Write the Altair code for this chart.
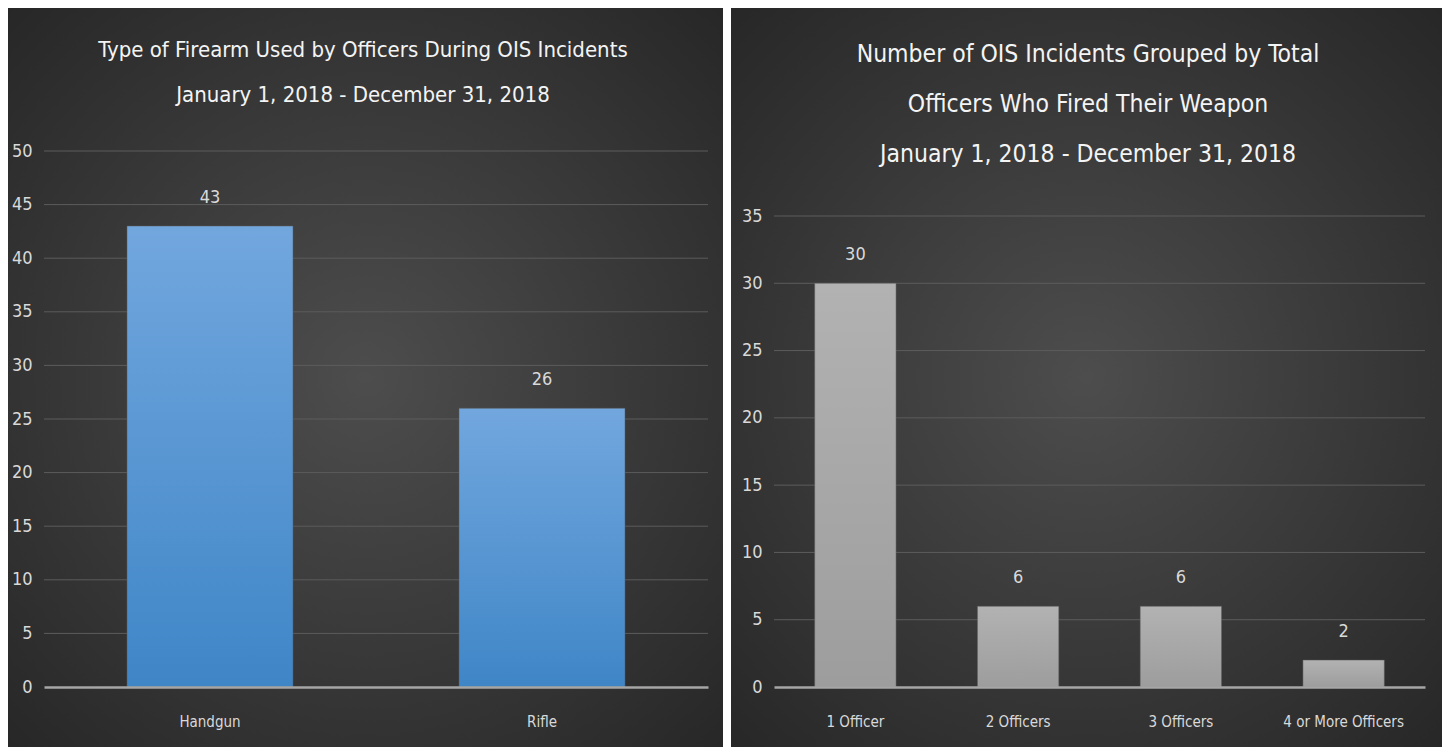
import altair as alt
import pandas as pd

# ---- data ----
firearm_types = ["Handgun", "Rifle"]
firearm_counts = [43, 26]
left_ticks = [0, 5, 10, 15, 20, 25, 30, 35, 40, 45, 50]

officer_groups = ["1 Officer", "2 Officers", "3 Officers", "4 or More Officers"]
officer_counts = [30, 6, 6, 2]
right_ticks = [0, 5, 10, 15, 20, 25, 30, 35]

left_title = "Type of Firearm Used by Officers During OIS Incidents\nJanuary 1, 2018 - December 31, 2018"
right_title = ("Number of OIS Incidents Grouped by Total\nOfficers Who Fired Their Weapon\n"
               "January 1, 2018 - December 31, 2018")

FONT = "DejaVu Sans Condensed, Liberation Sans Narrow, sans-serif"

bg_fill = alt.RadialGradient(
    gradient="radial", x1=0.5, y1=0.5, x2=0.5, y2=0.5, r1=0, r2=0.75,
    stops=[alt.GradientStop(color="#4d4d4d", offset=0),
           alt.GradientStop(color="#242424", offset=1)])

blue_fill = alt.LinearGradient(
    gradient="linear", x1=0, x2=0, y1=0, y2=1,
    stops=[alt.GradientStop(color="#72a7de", offset=0),
           alt.GradientStop(color="#3f86c7", offset=1)])

gray_fill = alt.LinearGradient(
    gradient="linear", x1=0, x2=0, y1=0, y2=1,
    stops=[alt.GradientStop(color="#b2b2b2", offset=0),
           alt.GradientStop(color="#9d9d9d", offset=1)])

H = 536  # common plot height (both panels share the baseline)


def panel(cats, vals, ticks, ymax, yrange_top, title, w, left, right, top, bottom,
          title_x, title_y, title_size, line_h, bar_fill):
    df = pd.DataFrame({"cat": cats, "val": vals})
    tick_df = pd.DataFrame({"val": ticks[1:]})
    one = alt.Data(values=[{"k": 1}])
    yscale = alt.Scale(domain=[0, ymax], nice=False, range=[H, yrange_top])

    bg = alt.Chart(one).mark_rect(fill=bg_fill).encode(
        x=alt.value(-left), x2=alt.value(w + right),
        y=alt.value(-top), y2=alt.value(H + bottom))
    ttl = alt.Chart(one).mark_text(
        text=title, lineBreak="\n", lineHeight=line_h,
        font=FONT, fontSize=title_size, color="#f4f4f4", align="center",
        baseline="middle").encode(x=alt.value(title_x), y=alt.value(title_y))
    grid = alt.Chart(tick_df).mark_rule(color="#5c5c5c", strokeWidth=1).encode(
        y=alt.Y("val:Q", scale=yscale, title=None))
    base = alt.Chart(df).encode(
        x=alt.X("cat:N", sort=cats, title=None,
                scale=alt.Scale(paddingInner=0.5, paddingOuter=0.25),
                axis=alt.Axis(labelAngle=0, ticks=False, tickSize=0, labelPadding=27,
                              labelFont=FONT, labelFontSize=15, labelColor="#d9d9d9",
                              domainColor="#a6a6a6", domainWidth=2.5, grid=False,
                              zindex=1)),
        y=alt.Y("val:Q", title=None, scale=yscale,
                axis=alt.Axis(values=ticks, ticks=False, tickSize=0, domain=False,
                              grid=False, labelPadding=12, labelFont=FONT,
                              labelFontSize=18, labelColor="#d9d9d9", zindex=1)))
    bars = base.mark_bar(fill=bar_fill, stroke="#5a5a5a", strokeWidth=0.5)
    labels = base.mark_text(dy=-28, font=FONT, fontSize=18, color="#d9d9d9",
                            baseline="middle").encode(text="val:Q")
    return alt.layer(bg, ttl, grid, bars, labels).properties(width=w, height=H)


left_panel = panel(firearm_types, firearm_counts, left_ticks, 50, 0, left_title,
                   664, 36, 15, 143, 60, 319, -101, 22, 45, blue_fill)
right_panel = panel(officer_groups, officer_counts, right_ticks, 35, 65, right_title,
                    651, 43, 17, 143, 60, 314, -96, 24.5, 50, gray_fill)

chart = alt.hconcat(left_panel, right_panel, spacing=8).properties(
    background="white", padding=0
).configure_view(stroke=None)

chart.save("out.html", embed_options={"renderer": "svg", "actions": False})
